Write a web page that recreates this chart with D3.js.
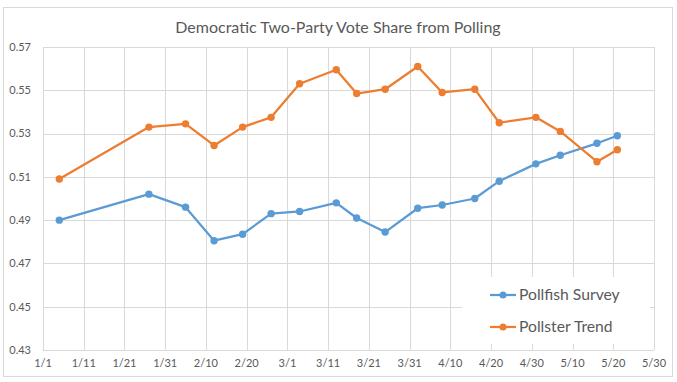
<!DOCTYPE html>
<html>
<head>
<meta charset="utf-8">
<script src="https://cdn.jsdelivr.net/npm/d3@7"></script>
<style>
  body { margin: 0; background: #fff; }
  text { font-family: Lato, "Open Sans", sans-serif; fill: #595959; }
</style>
</head>
<body>
<div id="graphic"></div>
<script>
  // poll dates (2016) and the two series
  var dates = ["1/5", "1/27", "2/5", "2/12", "2/19", "2/26", "3/4", "3/13", "3/18", "3/25",
    "4/2", "4/8", "4/16", "4/22", "5/1", "5/7", "5/16", "5/21"];
  var pollfish = [0.490, 0.502, 0.496, 0.4805, 0.4835, 0.493, 0.494, 0.498, 0.491, 0.4845,
    0.4955, 0.497, 0.500, 0.508, 0.516, 0.520, 0.5255, 0.529];
  var pollster = [0.509, 0.533, 0.5345, 0.5245, 0.533, 0.5375, 0.553, 0.5595, 0.5485, 0.5505,
    0.561, 0.549, 0.5505, 0.535, 0.5375, 0.531, 0.517, 0.5225];
  var xTicks = ["1/1", "1/11", "1/21", "1/31", "2/10", "2/20", "3/1", "3/11", "3/21", "3/31",
    "4/10", "4/20", "4/30", "5/10", "5/20", "5/30"];
  var yTicks = [0.43, 0.45, 0.47, 0.49, 0.51, 0.53, 0.55, 0.57];
  var seriesNames = ["Pollfish Survey", "Pollster Trend"];
  var colors = ["#5b9bd5", "#ed7d31"];

  var width = 677, height = 382;
  var margin = { top: 47, right: 23, bottom: 32, left: 43 };

  var parse = function (s) {
    var p = s.split("/");
    return new Date(2016, +p[0] - 1, +p[1]);
  };

  var svg = d3.select("#graphic").append("svg")
    .attr("width", width)
    .attr("height", height);

  // chart border
  svg.append("rect")
    .attr("x", 3.5).attr("y", 7.5)
    .attr("width", 669).attr("height", 369)
    .attr("fill", "#fff")
    .attr("stroke", "#d9d9d9");

  svg.append("text")
    .attr("x", 338).attr("y", 33)
    .attr("text-anchor", "middle")
    .style("font-size", "16px")
    .text("Democratic Two-Party Vote Share from Polling");

  var x = d3.scaleTime()
    .domain([parse("1/1"), parse("5/30")])
    .range([margin.left, width - margin.right]);

  var y = d3.scaleLinear()
    .domain([0.43, 0.57])
    .range([height - margin.bottom, margin.top]);

  // gridlines
  svg.append("g")
    .selectAll("line.h")
    .data(yTicks)
    .enter().append("line")
    .attr("x1", x.range()[0]).attr("x2", x.range()[1])
    .attr("y1", d => Math.round(y(d)) + 0.5).attr("y2", d => Math.round(y(d)) + 0.5)
    .attr("stroke", "#d9d9d9");

  svg.append("g")
    .selectAll("line.v")
    .data(xTicks)
    .enter().append("line")
    .attr("x1", d => Math.round(x(parse(d))) + 0.5).attr("x2", d => Math.round(x(parse(d))) + 0.5)
    .attr("y1", y.range()[0]).attr("y2", y.range()[1])
    .attr("stroke", "#d9d9d9");

  // y labels
  svg.append("g")
    .selectAll("text")
    .data(yTicks)
    .enter().append("text")
    .attr("x", 31)
    .attr("y", d => y(d))
    .attr("dy", "0.35em")
    .attr("text-anchor", "end")
    .style("font-size", "11px")
    .text(d => d3.format(".2f")(d));

  // x labels
  svg.append("g")
    .selectAll("text")
    .data(xTicks)
    .enter().append("text")
    .attr("x", d => x(parse(d)))
    .attr("y", 367)
    .attr("text-anchor", "middle")
    .style("font-size", "11px")
    .text(d => d);

  // lines + markers
  var line = d3.line()
    .x((d, i) => x(parse(dates[i])))
    .y(d => y(d));

  [pollfish, pollster].forEach(function (vals, k) {
    svg.append("path")
      .datum(vals)
      .attr("d", line)
      .attr("fill", "none")
      .attr("stroke", colors[k])
      .attr("stroke-width", 2.25)
      .attr("stroke-linejoin", "round");

    svg.append("g")
      .selectAll("circle")
      .data(vals)
      .enter().append("circle")
      .attr("cx", (d, i) => x(parse(dates[i])))
      .attr("cy", d => y(d))
      .attr("r", 3.7)
      .attr("fill", colors[k]);
  });

  // legend
  var legend = svg.append("g");
  legend.append("rect")
    .attr("x", 462).attr("y", 277)
    .attr("width", 188).attr("height", 67)
    .attr("fill", "#fff");

  seriesNames.forEach(function (name, k) {
    var ly = 295 + k * 32;
    legend.append("line")
      .attr("x1", 490).attr("x2", 516)
      .attr("y1", ly).attr("y2", ly)
      .attr("stroke", colors[k])
      .attr("stroke-width", 2.25);
    legend.append("circle")
      .attr("cx", 503).attr("cy", ly)
      .attr("r", 3.5)
      .attr("fill", colors[k]);
    legend.append("text")
      .attr("x", 519).attr("y", ly)
      .attr("dy", "0.35em")
      .style("font-size", "15.7px")
      .text(name);
  });
</script>
</body>
</html>
